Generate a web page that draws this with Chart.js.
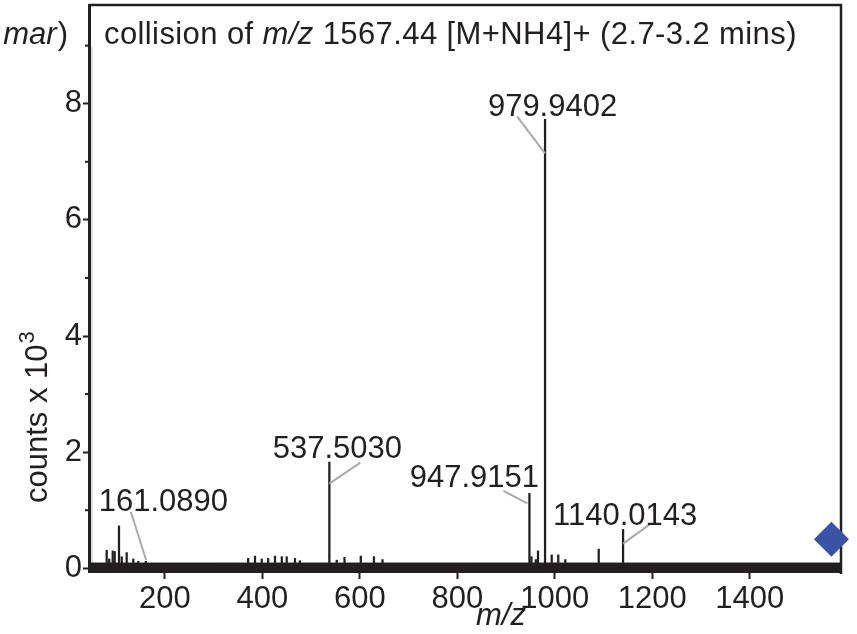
<!DOCTYPE html>
<html>
<head>
<meta charset="utf-8">
<title>MS/MS spectrum</title>
<script src="https://cdn.jsdelivr.net/npm/chart.js@4.4.0/dist/chart.umd.min.js"></script>
<style>
  html, body { margin: 0; padding: 0; background: #fff; }
  #wrap { width: 857px; height: 634px; position: relative; }
</style>
</head>
<body>
<div id="wrap"><canvas id="spectrum"></canvas></div>
<script>
// labelled fragment ions (m/z, counts x 10^3)
const labeledMz = [161.0890, 537.5030, 947.9151, 979.9402, 1140.0143];
const labeledCounts = [0.12, 1.83, 1.29, 7.73, 0.67];
const labelText = ['161.0890', '537.5030', '947.9151', '979.9402', '1140.0143'];

// smaller unlabelled peaks
const minorMz = [80.8, 86, 93.1, 97.2, 106, 111.6, 121.8, 135.4, 145.6,
  371, 385, 398.8, 412, 426, 440, 450, 467, 477,
  552.6, 568.6, 602, 629, 646.6,
  952, 961, 965.5, 993.6, 1007, 1021.5, 1090];
const minorCounts = [0.31, 0.16, 0.30, 0.29, 0.73, 0.20, 0.27, 0.16, 0.12,
  0.17, 0.21, 0.16, 0.17, 0.21, 0.20, 0.20, 0.17, 0.13,
  0.14, 0.19, 0.21, 0.20, 0.15,
  0.20, 0.15, 0.30, 0.23, 0.23, 0.15, 0.33];

// precursor marker
const precursorMz = [1567.44];
const precursorCounts = [0.5];

// baseline noise floor
const noiseMz = [44.5, 1587];
const noiseTop = [0.09, 0.09];
const noiseBottom = -0.045;

const xTicks = [200, 400, 600, 800, 1000, 1200, 1400];
const yTicks = [0, 2, 4, 6, 8];
const yMinorTicks = [1, 3, 5, 7, 9];

const FONT = '"Liberation Sans", Arial, Helvetica, sans-serif';
const INK = '#231f20';

// where each peak label sits, in px relative to the top of its spike
const labelLayout = [
  { dx: 17.5, base: -50.6, from: [-15, -49.6], to: [0.3, -1.3] },
  { dx: 8, base: -4.4, from: [31, 0.6], to: [0, 21.6] },
  { dx: -55, base: -6.6, from: [-26, -2.6], to: [-2, 10] },
  { dx: 7.5, base: -3, from: [-28, -3], to: [0, 34] },
  { dx: 2, base: -4, from: [27.7, -5.7], to: [0, 14.3] }
];

const peaks = labeledMz.map((x, i) => ({ x, y: labeledCounts[i] }))
  .concat(minorMz.map((x, i) => ({ x, y: minorCounts[i] })));

function drawRuns(ctx, runs, x, y, size) {
  runs.forEach(([text, italic]) => {
    ctx.font = (italic ? 'italic ' : '') + size + 'px ' + FONT;
    ctx.fillText(text, x, y);
    x += ctx.measureText(text).width;
  });
}

const decorations = {
  id: 'decorations',
  beforeDatasetsDraw(chart) {
    const { ctx, chartArea: a } = chart;
    ctx.save();
    ctx.strokeStyle = INK;
    ctx.lineWidth = 2.5;
    ctx.beginPath();
    ctx.moveTo(a.left, a.top);
    ctx.lineTo(a.right, a.top);
    ctx.lineTo(a.right, a.bottom + 2);
    ctx.stroke();
    ctx.strokeStyle = '#dcdcdc';
    ctx.lineWidth = 2;
    ctx.beginPath();
    ctx.moveTo(a.left + 3, 47);
    ctx.lineTo(a.left + 3, a.bottom - 2);
    ctx.stroke();
    ctx.restore();
  },
  afterDatasetsDraw(chart) {
    const { ctx } = chart;
    const xs = chart.scales.x, ys = chart.scales.y;
    ctx.save();
    labeledMz.forEach((mz, i) => {
      const px = xs.getPixelForValue(mz);
      const py = ys.getPixelForValue(labeledCounts[i]);
      const l = labelLayout[i];
      ctx.strokeStyle = '#a7a9ac';
      ctx.lineWidth = 2;
      ctx.beginPath();
      ctx.moveTo(px + l.from[0], py + l.from[1]);
      ctx.lineTo(px + l.to[0], py + l.to[1]);
      ctx.stroke();
      ctx.fillStyle = INK;
      ctx.font = '31px ' + FONT;
      ctx.textAlign = 'center';
      ctx.textBaseline = 'alphabetic';
      ctx.fillText(labelText[i], px + l.dx, py + l.base);
    });
    ctx.restore();
  },
  afterDraw(chart) {
    const { ctx, chartArea: a } = chart;
    const ys = chart.scales.y;
    ctx.save();
    ctx.fillStyle = INK;
    ctx.textBaseline = 'alphabetic';
    ctx.textAlign = 'left';
    // panel title
    ctx.letterSpacing = '0.4px';
    drawRuns(ctx, [['collision of ', false], ['m/z', true], [' 1567.44 [M+NH4]+ (2.7-3.2 mins)', false]], 104, 44, 31);
    ctx.letterSpacing = '0px';
    // tail of neighbouring panel title
    ctx.font = '31px ' + FONT;
    const paren = ctx.measureText(')').width;
    ctx.textAlign = 'right';
    ctx.fillText(')', 68, 44);
    ctx.font = 'italic 31px ' + FONT;
    ctx.fillText('mar', 68 - paren - 1, 44);
    // x title
    ctx.textAlign = 'center';
    ctx.font = 'italic 31px ' + FONT;
    ctx.fillText('m/z', 501, 625);
    // y title
    ctx.save();
    ctx.translate(47, 503);
    ctx.rotate(-Math.PI / 2);
    ctx.textAlign = 'left';
    ctx.font = '31px ' + FONT;
    ctx.fillText('counts x 10', 0, 0);
    const w = ctx.measureText('counts x 10').width;
    ctx.font = '22px ' + FONT;
    ctx.fillText('3', w + 1, -13);
    ctx.restore();
    // minor y ticks
    ctx.strokeStyle = INK;
    ctx.lineWidth = 2;
    yMinorTicks.forEach(v => {
      const y = ys.getPixelForValue(v);
      ctx.beginPath();
      ctx.moveTo(a.left - 4, y);
      ctx.lineTo(a.left, y);
      ctx.stroke();
    });
    ctx.restore();
  }
};

new Chart(document.getElementById('spectrum'), {
  type: 'bar',
  data: {
    datasets: [
      {
        type: 'scatter',
        data: precursorMz.map((x, i) => ({ x, y: precursorCounts[i] })),
        pointStyle: 'rectRot',
        pointRadius: 17.5,
        backgroundColor: '#3a53a4',
        borderWidth: 0,
        clip: false,
        order: 0
      },
      {
        type: 'bar',
        data: peaks,
        backgroundColor: INK,
        barThickness: 1.6,
        order: 1
      },
      {
        type: 'line',
        data: noiseMz.map((x, i) => ({ x, y: noiseTop[i] })),
        fill: { value: noiseBottom },
        backgroundColor: INK,
        borderColor: INK,
        borderWidth: 1,
        pointRadius: 0,
        order: 2
      }
    ]
  },
  options: {
    responsive: true,
    maintainAspectRatio: false,
    animation: false,
    layout: { autoPadding: false, padding: { left: 0, right: 16, top: 5, bottom: 0 } },
    plugins: { legend: { display: false }, tooltip: { enabled: false }, title: { display: false } },
    scales: {
      x: {
        type: 'linear',
        min: 44.5,
        max: 1587,
        offset: false,
        afterFit: s => { s.height = 62; s.paddingLeft = 0; s.paddingRight = 0; },
        afterBuildTicks: s => { s.ticks = xTicks.map(v => ({ value: v })); },
        grid: { offset: false, drawOnChartArea: false, drawTicks: true, tickLength: 7, tickWidth: 2, tickColor: INK },
        border: { display: true, color: INK, width: 2 },
        ticks: { color: INK, font: { family: FONT, size: 31 }, padding: 2, maxRotation: 0, callback: v => String(v) }
      },
      y: {
        min: -0.064,
        max: 9.7,
        afterFit: s => { s.width = 89; s.paddingTop = 0; s.paddingBottom = 0; },
        afterBuildTicks: s => { s.ticks = yTicks.map(v => ({ value: v })); },
        grid: { drawOnChartArea: false, drawTicks: true, tickLength: 6, tickWidth: 2, tickColor: INK },
        border: { display: true, color: INK, width: 3 },
        ticks: { color: INK, font: { family: FONT, size: 31 }, padding: 1, callback: v => String(v) }
      }
    }
  },
  plugins: [decorations]
});
</script>
</body>
</html>
